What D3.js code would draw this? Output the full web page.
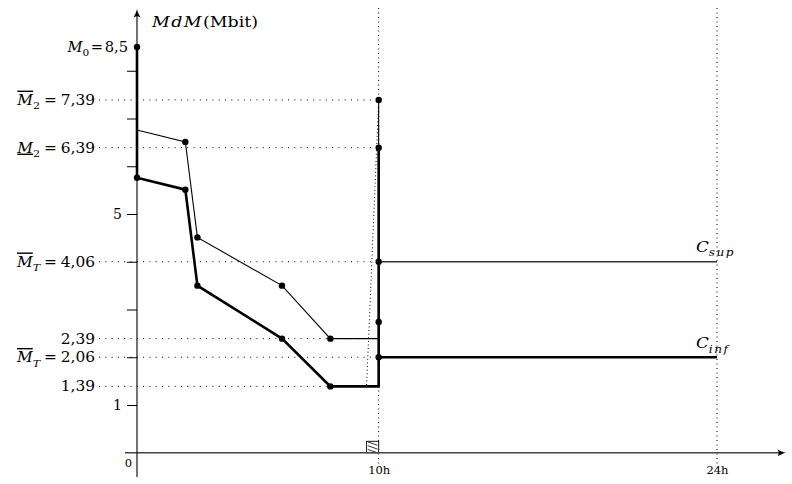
<!DOCTYPE html>
<html><head><meta charset="utf-8">
<script src="https://cdn.jsdelivr.net/npm/d3@7"></script>
<style>body{margin:0;background:#fff}svg{display:block}</style>
</head><body>
<svg id="chart" width="792" height="484"></svg>
<script>
// ---------- data (hours, Mbit) ----------
const infHours   = [0, 0, 2, 2.5, 6, 8, 10, 10];
const infValues  = [8.5, 5.76, 5.51, 3.5, 2.39, 1.39, 1.39, 6.39];
const supHours   = [0, 2, 2.5, 6, 8, 10, 10];
const supValues  = [6.76, 6.51, 4.51, 3.5, 2.39, 2.39, 7.39];
const infTailHours = [10, 24];
const infTailValues = [2.0, 2.0];
const supTailHours = [10, 24];
const supTailValues = [4.0, 4.0];
const infDotHours  = [0, 0, 2, 2.5, 6, 8];
const infDotValues = [8.5, 5.76, 5.51, 3.5, 2.39, 1.39];
const supDotHours  = [2, 2.5, 6, 8];
const supDotValues = [6.51, 4.51, 3.5, 2.39];
const jumpHour = 10;
const jumpDotValues = [7.39, 6.39, 4.0, 2.74, 2.0];
const slantHours  = [10, 9.5];
const slantValues = [7.39, 1.39];
const hatchHours  = [9.5, 10];
const hatchValues = [0, 0.24];
const levelValues = [7.39, 6.39, 4.0, 2.39, 2.0, 1.39];
const levelLabels = [
  [{t:"M", it:1, deco:"overline"}, {t:"2", sub:1}, {t:"=", eq:1}, {t:"7,39"}],
  [{t:"M", it:1, deco:"underline"}, {t:"2", sub:1}, {t:"=", eq:1}, {t:"6,39"}],
  [{t:"M", it:1, deco:"overline"}, {t:"T", sub:1, it:1}, {t:"=", eq:1}, {t:"4,06"}],
  [{t:"2,39"}],
  [{t:"M", it:1, deco:"overline"}, {t:"T", sub:1, it:1}, {t:"=", eq:1}, {t:"2,06"}],
  [{t:"1,39"}]
];
const m0Value = 8.5;
const m0Label = [{t:"M", it:1}, {t:"0", sub:1}, {t:"=", eq:1}, {t:"8,5"}];
const yTickValues = [1, 2, 3, 4, 5, 6, 7, 8];
const yTickLabels = ["1", "", "", "", "5", "", "", ""];
const xTickValues = [10, 24];
const xTickLabels = ["10h", "24h"];
const yTitleParts = [{t:"MdM", it:1, ls:1.2}, {t:"(Mbit)"}];
const supLabel = [{t:"C", it:1}, {t:"sup", sub:1, it:1, ls:1.3}];
const infLabel = [{t:"C", it:1}, {t:"inf", sub:1, it:1, ls:1.3}];

// ---------- layout ----------
const FONT = "'DejaVu Serif', serif";
const svg = d3.select("#chart");
const x = d3.scaleLinear().domain([0, 24]).range([137, 717]);
const y = d3.scaleLinear().domain([0, 9]).range([452.75, 23]);
const line = d3.line().x(d => x(d[0])).y(d => y(d[1]));
const zip = (a, b) => a.map((v, i) => [v, b[i]]);

function mathText(parent, parts, size, anchor, eqGap) {
  const g = parent.append("g");
  const t = g.append("text").attr("font-family", FONT).attr("font-size", size)
    .attr("text-anchor", anchor).attr("fill", "#000");
  let shift = 0;
  parts.forEach((p, i) => {
    const ts = t.append("tspan").text(p.t);
    if (p.it) ts.attr("font-style", "italic");
    if (p.ls) ts.attr("letter-spacing", p.ls);
    if (p.deco) ts.style("text-decoration", p.deco);
    const want = p.sub ? size * 0.32 : 0;
    if (want !== shift) { ts.attr("dy", want - shift); shift = want; }
    if (p.sub) ts.attr("font-size", size * 0.72);
    if (p.eq) ts.attr("dx", eqGap || 0);
    if (i > 0 && parts[i - 1].eq) ts.attr("dx", eqGap || 0);
  });
  return g;
}
function place(g, px, py, sx) { g.attr("transform", `translate(${px},${py}) scale(${sx},1)`); }

// vertical dotted guides
svg.append("g").selectAll("line").data(xTickValues).join("line")
  .attr("x1", d => x(d)).attr("x2", d => x(d))
  .attr("y1", 8).attr("y2", 464)
  .attr("stroke", "#000").attr("stroke-width", 1).attr("stroke-dasharray", "1,3.5");

// horizontal dotted level lines
svg.append("g").selectAll("line").data(levelValues).join("line")
  .attr("x1", 99).attr("x2", x(jumpHour))
  .attr("y1", d => y(d)).attr("y2", d => y(d))
  .attr("stroke", "#000").attr("stroke-width", 1).attr("stroke-dasharray", "1,5.3");

// slanted dotted line
svg.append("path").attr("d", line(zip(slantHours, slantValues)))
  .attr("fill", "none").attr("stroke", "#000").attr("stroke-width", 1)
  .attr("stroke-dasharray", "1,2.6");

// hatched box
const hx0 = x(hatchHours[0]), hx1 = x(hatchHours[1]);
const hy0 = y(hatchValues[1]), hy1 = y(hatchValues[0]);
svg.append("rect").attr("x", hx0).attr("y", hy0).attr("width", hx1 - hx0).attr("height", hy1 - hy0)
  .attr("fill", "#fff").attr("stroke", "#000").attr("stroke-width", 0.9);
const hw = hx1 - hx0, hh = hy1 - hy0;
svg.append("g").selectAll("line").data([0.05, 0.38, 0.71]).join("line")
  .attr("x1", d => hx0 + hw * 0.1).attr("y1", d => hy0 + hh * d)
  .attr("x2", d => hx0 + hw * 0.9).attr("y2", d => hy0 + hh * (d + 0.3))
  .attr("stroke", "#000").attr("stroke-width", 0.8);

// axes lines
svg.append("line").attr("x1", 125).attr("x2", 782).attr("y1", y(0)).attr("y2", y(0))
  .attr("stroke", "#444").attr("stroke-width", 1.3);
svg.append("line").attr("x1", x(0)).attr("x2", x(0)).attr("y1", 477).attr("y2", 13)
  .attr("stroke", "#000").attr("stroke-width", 1.1);
// arrow heads
const tip = "M0,0 C0.6,3 2,6 3.6,8.5 C2,7.6 0.8,7.3 0,7.3 C-0.8,7.3 -2,7.6 -3.6,8.5 C-2,6 -0.6,3 0,0Z";
svg.append("path").attr("transform", `translate(${x(0)},9)`).attr("d", tip);
svg.append("path").attr("transform", `translate(786,${y(0)}) rotate(90)`).attr("d", tip);

// y axis ticks
const yAxis = d3.axisLeft(y).tickValues(yTickValues).tickSize(10).tickPadding(5)
  .tickFormat((d, i) => yTickLabels[i]);
const ya = svg.append("g").attr("transform", `translate(${x(0)},0)`).call(yAxis);
ya.select(".domain").remove();
ya.selectAll(".tick line").attr("stroke", "#000").attr("stroke-width", 1);
ya.selectAll(".tick text").attr("font-family", FONT).attr("font-size", 14).attr("fill", "#000");

// x axis labels
const xAxis = d3.axisBottom(x).tickValues(xTickValues).tickSize(0).tickPadding(13.5)
  .tickFormat((d, i) => xTickLabels[i]);
const xa = svg.append("g").attr("transform", `translate(0,${y(0)})`).call(xAxis);
xa.select(".domain").remove();
xa.selectAll(".tick text").attr("font-family", FONT).attr("font-size", 11.5).attr("fill", "#000");
svg.append("text").attr("x", 128.5).attr("y", 467).attr("text-anchor", "middle")
  .attr("font-family", FONT).attr("font-size", 11.5).text("0");

// curves
svg.append("path").attr("d", line(zip(supHours, supValues)))
  .attr("fill", "none").attr("stroke", "#000").attr("stroke-width", 1.1);
svg.append("path").attr("d", line(zip(supTailHours, supTailValues)))
  .attr("fill", "none").attr("stroke", "#333").attr("stroke-width", 1.3);
svg.append("path").attr("d", line(zip(infHours, infValues)))
  .attr("fill", "none").attr("stroke", "#000").attr("stroke-width", 2.6).attr("stroke-linejoin", "miter");
svg.append("path").attr("d", line(zip(infTailHours, infTailValues)))
  .attr("fill", "none").attr("stroke", "#000").attr("stroke-width", 2.6);

// dots
const dots = zip(infDotHours, infDotValues)
  .concat(zip(supDotHours, supDotValues))
  .concat(jumpDotValues.map(v => [jumpHour, v]));
svg.append("g").selectAll("circle").data(dots).join("circle")
  .attr("cx", d => x(d[0])).attr("cy", d => y(d[1])).attr("r", 3.2).attr("fill", "#000");

// level labels
levelValues.forEach((v, i) => {
  place(mathText(svg, levelLabels[i], 14, "end", 3.5), 95, y(v) + 5, 1.1);
});
place(mathText(svg, m0Label, 14, "end", 1.5), 128, y(m0Value) + 5, 1.05);

// y title
place(mathText(svg, yTitleParts, 15, "start"), 152, 27, 1.16);

// curve labels
place(mathText(svg, supLabel, 15, "start"), 696, 251.5, 1.12);
place(mathText(svg, infLabel, 15, "start"), 696, 348, 1.12);
</script>
</body></html>
